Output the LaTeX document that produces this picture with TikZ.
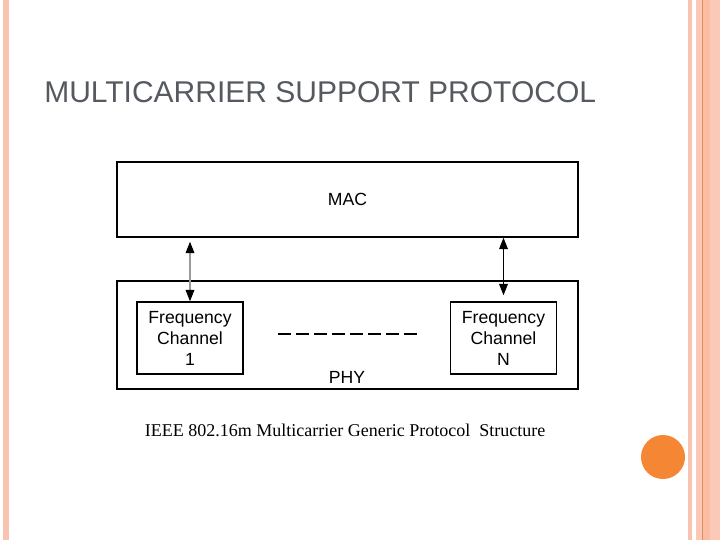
\documentclass[tikz,border=0pt]{standalone}
\usepackage{fontspec}
\setmainfont{Liberation Sans}
\newfontfamily\capfont{Liberation Serif}
\usepackage{xcolor}
\usetikzlibrary{arrows.meta,positioning}
\definecolor{cTitle}{HTML}{555960}
\definecolor{cEdge}{HTML}{F8C4B0}
\definecolor{cEdgeB}{HTML}{FBC9B6}
\definecolor{cEdgeC}{HTML}{FBBDA2}
\definecolor{cRule}{HTML}{DC9160}
\definecolor{cDot}{HTML}{F58634}
\definecolor{cLink}{HTML}{9A9A9A}
\tikzset{
  layer/.style   = {rectangle, draw=black, line width=1.1pt, inner sep=0pt,
                    minimum width=345.75pt, font=\fontsize{13.2}{15.75}\selectfont},
  chan/.style    = {rectangle, draw=black, line width=1.1pt, inner sep=0pt, align=center,
                    minimum width=79.5pt, minimum height=54pt,
                    font=\fontsize{13.2}{15.75}\selectfont},
  lbl/.style     = {inner sep=0pt, font=\fontsize{13.2}{15.75}\selectfont},
  lnk/.style     = {{Triangle[length=8.5pt,width=6.5pt,color=black]}-{Triangle[length=8.5pt,width=6.5pt,color=black]},
                    line width=0.8pt},
  dots/.style    = {line width=0.8pt, dash pattern=on 9.75pt off 3.75pt},
}

\begin{document}
\begin{tikzpicture}[x=0.75pt, y=-0.75pt]
  \useasboundingbox (0,0) rectangle (720,540);
  % slide frame
  \fill[cEdge] (3,0) rectangle (9,540);
  \fill[cEdge] (688,0) rectangle (692,540);
  \fill[cEdgeB] (696,0) rectangle (720,540);
  \fill[cEdgeC] (703,0) rectangle (710,540);
  \draw[cRule, line width=0.75pt] (702.5,0) -- (702.5,540);
  \fill[cDot] (663,457) circle[radius=22];

  \node[anchor=base west, inner sep=0pt, text=cTitle, font=\fontsize{22.5}{27}\selectfont]
    (title) at (44,102) {MULTICARRIER SUPPORT PROTOCOL};

  % layers
  \node[layer, minimum height=56.25pt] (mac) at (347.5,199.5) {MAC};
  \node[layer, minimum height=81pt] (phy) at (347.5,335) {};
  \node[lbl, anchor=base] (phytxt) at (347,383) {PHY};

  % channels
  \node[chan] (fc1) at (190,338) {Frequency\\Channel\\1};
  \node[chan] (fcn) at (503.5,338) {Frequency\\Channel\\N};

  \coordinate (dsA) at (278,334);
  \coordinate (dsB) at (418,334);
  \draw[dots] (dsA) -- (dsB);

  \draw[lnk, draw=cLink, shorten <=3pt] (fc1.north |- mac.south) -- (fc1.north);
  \draw[lnk, shorten >=4.5pt] (fcn.north |- mac.south) -- (fcn.north);

  \node[anchor=base, inner sep=0pt, font=\capfont\fontsize{13.5}{16}\selectfont]
    (caption) at (345,436) {IEEE 802.16m Multicarrier Generic Protocol\ \ Structure};
\end{tikzpicture}
\end{document}
